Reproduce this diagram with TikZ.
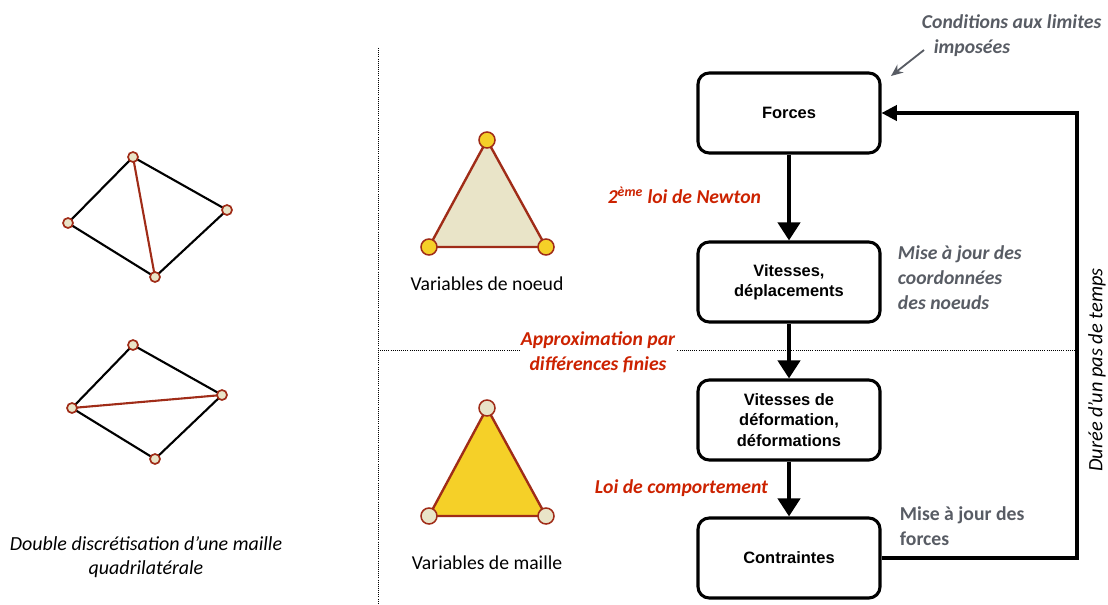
\documentclass[tikz,border=0pt]{standalone}
\usepackage{fontspec}
\setmainfont{Carlito}
\newfontfamily\boxfont{Liberation Sans}
\usepackage{tikz}
\usetikzlibrary{arrows.meta,positioning}

\definecolor{loired}{RGB}{204,34,0}
\definecolor{notegray}{RGB}{88,92,100}
\definecolor{edgebrown}{RGB}{160,44,24}
\definecolor{beige}{RGB}{233,228,200}
\definecolor{jaune}{RGB}{245,208,40}

\begin{document}
\begin{tikzpicture}[x=0.025cm,y=-0.025cm,
  stepbox/.style={draw,line width=2.2pt,rounded corners=8pt,minimum width=4.55cm,
              minimum height=2cm,align=center,font=\boxfont\bfseries\fontsize{11.7}{14.5}\selectfont},
  flow/.style={-{Triangle[length=0.45cm,width=0.55cm]},line width=2.9pt},
  loop/.style={-{Triangle[length=0.38cm,width=0.38cm]},line width=2.2pt},
  redlbl/.style={text=loired,font=\bfseries\itshape\fontsize{14}{17.5}\selectfont,align=center},
  graylbl/.style={text=notegray,font=\bfseries\itshape\fontsize{14}{17.5}\selectfont,align=left},
  vtx/.style={circle,draw=edgebrown,line width=1.1pt,inner sep=0pt,minimum size=0.4cm},
  qvtx/.style={circle,draw=edgebrown,fill=beige,line width=1.2pt,inner sep=0pt,minimum size=0.25cm},
  sep/.style={densely dotted,line width=0.5pt}]
\useasboundingbox (0,0) rectangle (1108,604);

% separators
\draw[sep] (378,48) -- (378,604);
\draw[sep] (380,350) -- (1077,350);

% quadrilaterals
\coordinate (qa) at (133,157); \coordinate (qb) at (227,210);
\coordinate (qc) at (155,277); \coordinate (qd) at (68,223);
\draw[line width=1.5pt] (qa) -- (qb) -- (qc) -- (qd) -- cycle;
\draw[edgebrown,line width=1.5pt] (qa) -- (qc);
\foreach \p in {qa,qb,qc,qd} \node[qvtx] (n\p) at (\p) {};

\coordinate (ra) at (133,345); \coordinate (rb) at (222,395);
\coordinate (rc) at (155,459); \coordinate (rd) at (72,408);
\draw[line width=1.5pt] (ra) -- (rb) -- (rc) -- (rd) -- cycle;
\draw[edgebrown,line width=1.5pt] (rd) -- (rb);
\foreach \p in {ra,rb,rc,rd} \node[qvtx] (n\p) at (\p) {};

\node[font=\itshape\fontsize{14.2}{17.5}\selectfont,align=center] (caption) at (146,557)
  {Double discrétisation d’une maille\\quadrilatérale};

% triangles
\coordinate (ta) at (487,140); \coordinate (tb) at (546,247); \coordinate (tc) at (429,247);
\draw[edgebrown,fill=beige,line width=1.7pt,line join=round] (ta) -- (tb) -- (tc) -- cycle;
\foreach \p in {ta,tb,tc} \node[vtx,fill=jaune] (n\p) at (\p) {};
\node[font=\fontsize{14}{17}\selectfont] (nodevar) at (487,284) {Variables de noeud};

\coordinate (ua) at (487,408); \coordinate (ub) at (546,516); \coordinate (uc) at (429,516);
\draw[edgebrown,fill=jaune,line width=1.7pt,line join=round] (ua) -- (ub) -- (uc) -- cycle;
\foreach \p in {ua,ub,uc} \node[vtx,fill=beige] (n\p) at (\p) {};
\node[font=\fontsize{14}{17}\selectfont] (cellvar) at (487,563) {Variables de maille};

% cycle
\node[stepbox] (forces) at (789,113) {Forces};
\node[stepbox] (vitdep) at (789,282) {Vitesses,\\déplacements};
\node[stepbox] (vitdef) at (789,420) {Vitesses de\\déformation,\\déformations};
\node[stepbox] (contr)  at (789,558) {Contraintes};

\draw[flow] (forces) -- (vitdep);
\draw[flow] (vitdep) -- (vitdef);
\draw[flow] (vitdef) -- (contr);

\coordinate (back1) at (1077,558);
\coordinate (back2) at (1077,113);
\draw[loop] (contr.east) -- (back1) -- (back2) -- (forces.east);

\node[rotate=90,font=\itshape\fontsize{14.5}{17}\selectfont] (duree) at (1097,370)
  {Durée d’un pas de temps};

% labels
\node[redlbl,anchor=east] (newton) at (766,195) {2\textsuperscript{ème} loi de Newton};
\node[redlbl,fill=white,inner sep=1pt] (approx) at (598,352) {Approximation par\\différences finies};
\node[redlbl,anchor=east] (comport) at (773,488) {Loi de comportement};

\node[graylbl,anchor=north west] (limites) at (917,10) {Conditions aux limites\\\hspace{0.6em}imposées};
\coordinate (limtip) at (891,76);
\draw[-{Stealth[length=0.3cm,width=0.25cm]},notegray,line width=1.3pt] (924,50) -- (limtip);

\node[graylbl,anchor=north west] (majcoord) at (893,241) {Mise à jour des\\coordonnées\\des noeuds};
\node[text=notegray,font=\bfseries\fontsize{14}{17.5}\selectfont,align=left,anchor=north west]
  (majforces) at (895,502) {Mise à jour des\\forces};
\end{tikzpicture}
\end{document}
